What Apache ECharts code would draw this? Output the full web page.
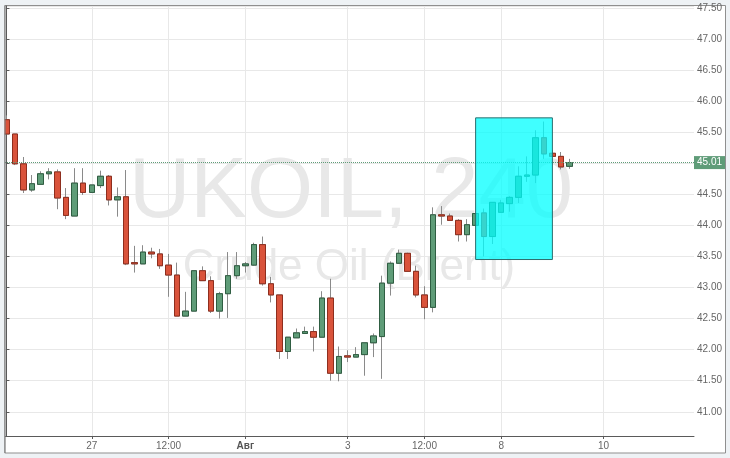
<!DOCTYPE html>
<html><head><meta charset="utf-8">
<script src="https://cdn.jsdelivr.net/npm/echarts@6/dist/echarts.min.js"></script>
<style>html,body{margin:0;padding:0;background:#eef2f5;}#c{width:730px;height:458px;}</style>
</head><body><div id="c"></div>
<script>
// 4-hour candles, positioned by slot index on the x axis
const slotRange = [-0.17, 80.6];
const tickPositions = [10, 19, 28, 40, 49, 58, 70];
const tickLabels = ['27', '12:00', 'Авг', '3', '12:00', '8', '10'];

const opens  = [45.70,45.47,44.99,44.57,44.66,44.83,44.86,44.45,44.15,44.68,44.53,44.64,44.79,44.41,44.46,43.40,43.38,43.57,43.54,43.36,
                43.20,42.54,42.62,43.27,43.11,42.62,42.90,43.19,43.35,43.36,43.69,43.06,42.88,41.97,42.19,42.26,42.29,42.20,42.83,41.62,
                41.90,41.88,41.92,42.11,42.21,43.07,43.39,43.55,43.26,42.88,42.68,44.17,44.15,44.08,43.85,44.00,44.20,43.82,44.21,44.35,
                44.45,44.79,44.81,45.41,45.16,45.11,44.95];
const closes = [45.47,44.99,44.57,44.67,44.83,44.86,44.44,44.16,44.68,44.53,44.65,44.79,44.41,44.46,43.38,43.38,43.57,43.54,43.35,43.20,
                42.54,42.62,43.27,43.11,42.62,42.90,43.19,43.35,43.38,43.69,43.06,42.88,41.97,42.20,42.27,42.29,42.20,42.83,41.62,41.89,
                41.88,41.92,42.11,42.22,43.07,43.39,43.55,43.26,42.88,42.68,44.17,44.15,44.08,43.85,44.01,44.19,43.82,44.37,44.36,44.45,
                44.79,44.81,45.41,45.15,45.11,44.94,45.01];
const lows   = [45.47,44.97,44.52,44.54,44.66,44.74,44.26,44.10,44.15,44.49,44.53,44.60,44.32,44.14,43.36,43.24,43.38,43.47,43.30,42.85,
                42.54,42.54,42.62,43.11,42.59,42.50,42.51,43.14,43.24,43.35,43.03,42.76,41.85,41.85,42.19,42.26,41.97,42.20,41.50,41.49,
                41.80,41.88,41.58,41.88,41.53,42.87,43.38,43.25,42.84,42.49,42.60,44.01,44.07,43.74,43.74,44.00,43.50,43.70,44.21,44.22,
                44.36,44.70,44.68,45.07,45.11,44.90,44.91];
const highs  = [45.77,45.47,45.10,44.81,44.87,44.92,44.90,44.60,44.92,44.92,44.65,44.88,44.81,44.61,44.89,43.67,43.68,43.64,43.62,43.54,
                43.40,42.93,43.27,43.34,43.18,42.93,43.57,43.57,43.41,43.72,43.82,43.17,42.88,42.20,42.34,42.37,42.37,42.94,43.14,42.05,
                41.99,42.04,42.11,42.26,43.19,43.42,43.61,43.56,43.35,43.02,44.29,44.31,44.19,44.10,44.10,44.19,44.27,44.37,44.41,44.47,
                44.95,45.11,45.53,45.67,45.21,45.18,45.07];

const lastPrice = 45.01;
const boxSlots = [55, 64];
const boxPrices = [45.73, 43.45];

const wickData = opens.map((o, i) => [i, o, closes[i], lows[i], highs[i]]);
const bodyData = opens.map((o, i) => [i, o, closes[i], Math.min(o, closes[i]), Math.max(o, closes[i])]);
const BG = '#eef2f5';

const chart = echarts.init(document.getElementById('c'));
chart.setOption({
  animation: false,
  backgroundColor: BG,
  textStyle: {fontFamily: 'Liberation Sans, Arial, sans-serif'},
  grid: {left: 5, right: 36, top: 6, bottom: 22, containLabel: false, outerBoundsMode: 'none'},
  graphic: [
    {type: 'rect', z: -2, shape: {x: 4.5, y: 5.5, width: 721, height: 447.5},
     style: {fill: '#ffffff', stroke: '#8f8f8f', lineWidth: 1}},
    {type: 'text', z: -1, style: {text: 'UKOIL, 240', x: 351, y: 194, align: 'center', verticalAlign: 'middle',
      font: '85px "Liberation Sans", Arial, sans-serif', fill: '#e8e8e8'}},
    {type: 'text', z: -1, style: {text: 'Crude Oil (Brent)', x: 349, y: 268, align: 'center', verticalAlign: 'middle',
      font: '44px "Liberation Sans", Arial, sans-serif', fill: '#e8e8e8'}},
    {type: 'rect', z: 50, shape: {x: 0, y: 0, width: 4.5, height: 458}, style: {fill: BG}},
    {type: 'line', z: 50, shape: {x1: 5, y1: 5.5, x2: 5, y2: 453}, style: {stroke: '#7a7a7a', lineWidth: 1.2}}
  ],
  xAxis: {
    type: 'value', min: slotRange[0], max: slotRange[1],
    axisLine: {lineStyle: {color: '#5a5a5a'}},
    axisTick: {show: true, length: 3, customValues: tickPositions, lineStyle: {color: '#5a5a5a'}},
    axisLabel: {
      customValues: tickPositions, fontSize: 10, color: '#666', margin: 5,
      formatter: (v) => {
        const k = tickPositions.indexOf(Math.round(v));
        if (k < 0) return '';
        return k === 2 ? '{b|' + tickLabels[k] + '}' : tickLabels[k];
      },
      rich: {b: {fontWeight: 'bold', fontSize: 10, color: '#555'}}
    },
    splitLine: {show: true, lineStyle: {color: '#e8e8e8'}}
  },
  yAxis: {
    type: 'value', position: 'right', scale: true,
    min: 40.61, max: 47.53, splitNumber: 14, minInterval: 0.5, maxInterval: 0.5,
    axisLine: {show: true, lineStyle: {color: '#5a5a5a'}},
    axisTick: {show: true, length: 3, lineStyle: {color: '#5a5a5a'}},
    axisLabel: {fontSize: 10, color: '#666', margin: 3, showMinLabel: false, showMaxLabel: false,
      formatter: (v) => v.toFixed(2)},
    splitLine: {show: true, lineStyle: {color: '#e8e8e8'}}
  },
  series: [
    {
      type: 'candlestick', name: 'wicks', data: wickData, barWidth: 6, z: 2,
      itemStyle: {color: '#8a8a8a', color0: '#8a8a8a', borderColor: '#8a8a8a', borderColor0: '#8a8a8a', borderWidth: 1}
    },
    {
      type: 'candlestick', name: 'UKOIL', data: bodyData, barWidth: 6, z: 3,
      itemStyle: {color: '#5f9c78', color0: '#d9533b', borderColor: '#2f5e42', borderColor0: '#8e2e1e', borderWidth: 1},
      markLine: {
        silent: true, symbol: ['none', 'none'], z: 6,
        lineStyle: {color: '#5f9c78', type: 'dotted', width: 1},
        label: {position: 'end', distance: 0, formatter: (p) => Number(p.value).toFixed(2),
          backgroundColor: '#5f9c78', color: '#fff', fontSize: 10, padding: [2, 3, 1, 3]},
        data: [{yAxis: lastPrice}]
      }
    },
    {
      type: 'custom', name: 'box', z: 10, silent: true,
      data: [[boxSlots[0], boxPrices[0], boxSlots[1], boxPrices[1]]],
      encode: {x: [0, 2], y: [1, 3]},
      renderItem: (params, api) => {
        const p0 = api.coord([api.value(0), api.value(1)]);
        const p1 = api.coord([api.value(2), api.value(3)]);
        return {type: 'rect', shape: {x: p0[0], y: p0[1], width: p1[0] - p0[0], height: p1[1] - p0[1]},
          style: {fill: 'rgba(0,255,255,0.75)', stroke: '#2c6e6e', lineWidth: 1}};
      }
    }
  ]
});
</script></body></html>
